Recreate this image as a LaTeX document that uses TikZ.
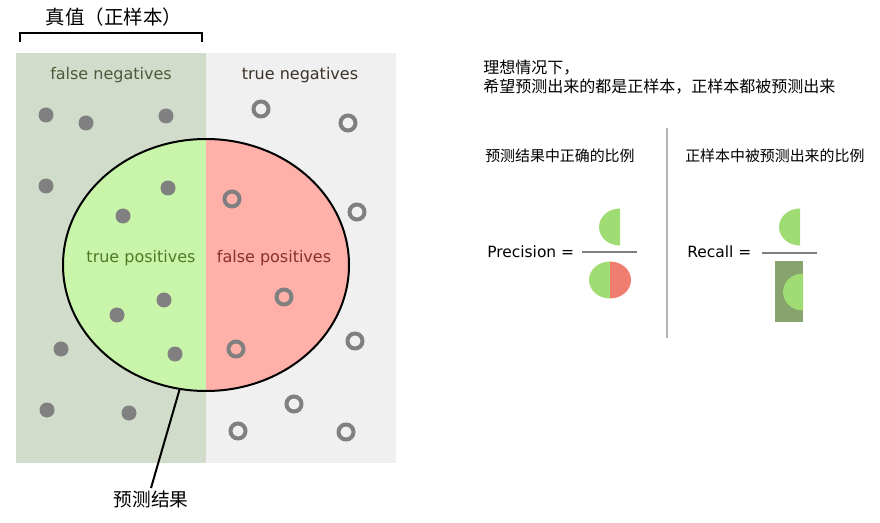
\documentclass[tikz,border=0pt]{standalone}
\usepackage{fontspec}
\setmainfont{DejaVu Sans}
\newfontfamily\cjk{Noto Sans CJK SC}
\usepackage{tikz}
\usetikzlibrary{shapes.geometric, positioning}

\definecolor{fnbg}{HTML}{D2DCCA}
\definecolor{tnbg}{HTML}{F0F0F0}
\definecolor{tpfill}{HTML}{C8F5AA}
\definecolor{fpfill}{HTML}{FFB0A8}
\definecolor{dotgray}{HTML}{808080}
\definecolor{divgray}{HTML}{B4B4B4}
\definecolor{halfgreen}{HTML}{A0DC74}
\definecolor{halfred}{HTML}{F07E70}
\definecolor{recallbox}{HTML}{88A46E}
\definecolor{fntext}{HTML}{4E5A3A}
\definecolor{tntext}{HTML}{3C3228}
\definecolor{tptext}{HTML}{4E7A24}
\definecolor{fptext}{HTML}{8A2E30}

\begin{document}
\begin{tikzpicture}[x=0.75pt, y=-0.75pt,
        region/.style={font=\fontsize{12}{14}\selectfont, inner sep=0pt},
        formula/.style={font=\fontsize{11.6}{14}\selectfont, inner sep=0pt, anchor=west},
        cjktext/.style={font=\cjk\fontsize{12}{14.3}\selectfont, inner sep=0pt},
        cjksmall/.style={font=\cjk\fontsize{11.2}{13}\selectfont, inner sep=0pt, anchor=west},
        cjkbig/.style={font=\cjk\fontsize{14}{16}\selectfont, inner sep=0pt},
        posdot/.style={fill=dotgray},
        negdot/.style={draw=dotgray, line width=3pt},
        fracline/.style={draw=dotgray, line width=1.5pt},
        pointer/.style={line width=1.5pt}
    ]
        \useasboundingbox (0,0) rectangle (880,523);

        % samples
        \fill[fnbg] (16,53) rectangle (206,463);
        \fill[tnbg] (206,53) rectangle (396,463);
        \draw[pointer] (20,42) -- (20,33) -- (202,33) -- (202,42);
        \node[cjkbig, font=\cjk\fontsize{14.6}{17}\selectfont] (truth) at (114,17) {真值（正样本）};

        \begin{scope}
            \clip (206,265) ellipse [x radius=143, y radius=126];
            \fill[tpfill] (63,139) rectangle (206,391);
            \fill[fpfill] (206,139) rectangle (349,391);
        \end{scope}

        \foreach \x/\y in {46/115, 86/123, 166/116, 46/186, 168/188, 123/216,
                           164/300, 117/315, 61/349, 175/354, 47/410, 129/413}
            \fill[posdot] (\x,\y) circle [radius=7.5];
        \foreach \x/\y in {261/109, 348/123, 232/199, 357/212, 284/297,
                           236/349, 355/341, 294/404, 238/431, 346/432}
            \draw[negdot] (\x,\y) circle [radius=7.5];

        \node[ellipse, draw, line width=1.5pt, minimum width=214.5pt, minimum height=189pt, inner sep=0pt] (pred) at (206,265) {};

        \node[region, text=fntext] (fn) at (111,75) {false negatives};
        \node[region, text=tntext] (tn) at (300,75) {true negatives};
        \node[region, text=tptext] (tp) at (141,258) {true positives};
        \node[region, text=fptext] (fp) at (274,258) {false positives};

        \node[cjkbig, anchor=north, inner sep=2pt] (predlabel) at (151,488) {预测结果};
        \draw[pointer] (pred.258) -- (predlabel.north);

        % right part
        \node[cjktext, anchor=west, align=left] (ideal) at (483,77) {理想情况下，\\希望预测出来的都是正样本，正样本都被预测出来};
        \node[cjksmall] (prectitle) at (485,156) {预测结果中正确的比例};
        \node[cjksmall] (rectitle) at (685,156) {正样本中被预测出来的比例};
        \draw[divgray, line width=1.5pt] (667,128) -- (667,338);

        % Precision
        \node[formula] (prec) at (487,252) {Precision =};
        \begin{scope}
            \clip (590,200) rectangle (620,250);
            \fill[halfgreen] (620,227) ellipse [x radius=21, y radius=18.5];
        \end{scope}
        \draw[fracline] (582,252.5) -- (637,252.5);
        \begin{scope}
            \clip (580,255) rectangle (610,305);
            \fill[halfgreen] (610,280) ellipse [x radius=21, y radius=18.5];
        \end{scope}
        \begin{scope}
            \clip (610,255) rectangle (640,305);
            \fill[halfred] (610,280) ellipse [x radius=21, y radius=18.5];
        \end{scope}

        % Recall
        \node[formula] (rec) at (687,252) {Recall =};
        \begin{scope}
            \clip (770,200) rectangle (800,250);
            \fill[halfgreen] (800,227) ellipse [x radius=21, y radius=18.5];
        \end{scope}
        \draw[fracline] (762,253) -- (817,253);
        \fill[recallbox] (775,261) rectangle (803,322);
        \begin{scope}
            \clip (775,265) rectangle (803,318);
            \fill[halfgreen] (803,292) ellipse [x radius=20, y radius=18.5];
        \end{scope}

    \end{tikzpicture}
\end{document}
